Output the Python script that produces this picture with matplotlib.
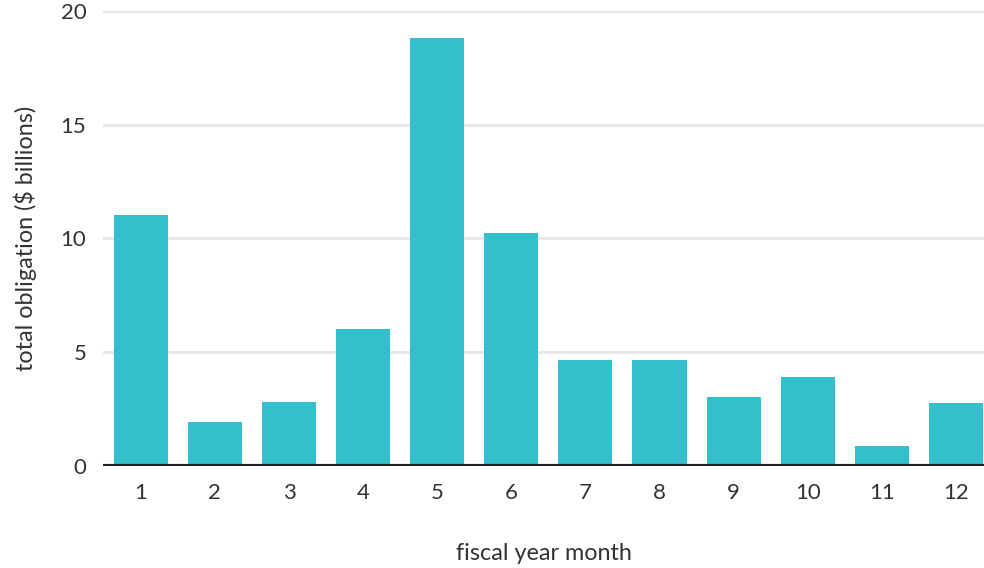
import matplotlib.pyplot as plt

# monthly totals
months = [1, 2, 3, 4, 5, 6, 7, 8, 9, 10, 11, 12]
obligation = [11.02, 1.93, 2.80, 6.02, 18.81, 10.24, 4.65, 4.65, 3.03, 3.90, 0.88, 2.75]
yticks = [0, 5, 10, 15, 20]

plt.rcParams['font.family'] = ['Lato', 'DejaVu Sans']

fig = plt.figure(figsize=(9.84, 5.68), dpi=100)
ax = fig.add_axes([0.1047, 0.1796, 0.8953, 0.8015])

ax.bar(months, obligation, width=0.73, color='#33bfcb', zorder=2)

ax.set_xlim(0.49, 12.38)
ax.set_ylim(0, 20)
ax.set_xticks(months)
ax.set_yticks(yticks)
ax.grid(axis='y', color='#e6e6e6', linewidth=2, zorder=0)
ax.axhline(0, color='#231f20', linewidth=3, zorder=3)

for side in ['top', 'right', 'left', 'bottom']:
    ax.spines[side].set_visible(False)
ax.tick_params(length=0, labelsize=16, colors='#333333')
ax.tick_params(axis='x', pad=12)
ax.tick_params(axis='y', pad=12)

ax.set_xlabel('fiscal year month', fontsize=16.8, color='#333333', labelpad=29)
ax.set_ylabel('total obligation ($ billions)', fontsize=16.8, color='#333333', labelpad=17)

fig.savefig('out.png', dpi=100)
